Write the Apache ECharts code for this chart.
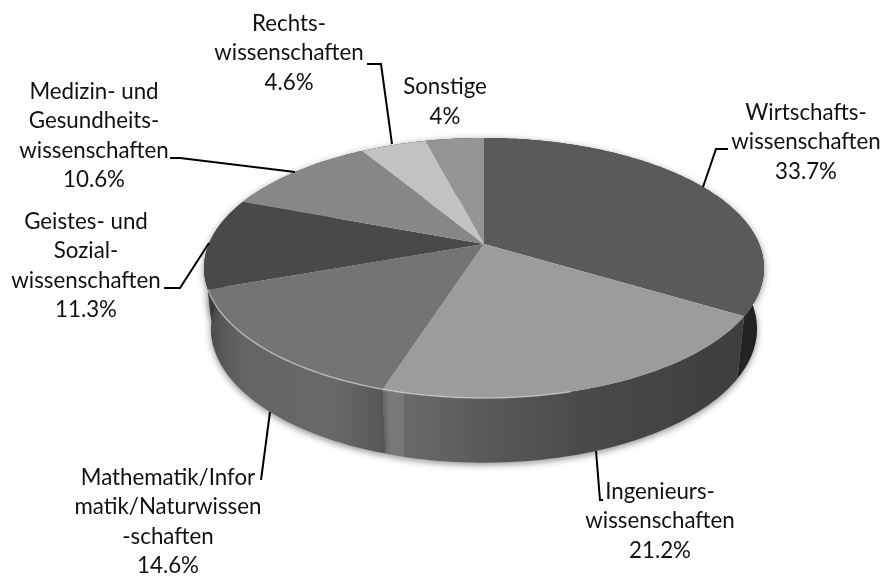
<!DOCTYPE html>
<html>
<head>
<meta charset="utf-8">
<title>Pie</title>
<style>
    html, body { margin: 0; padding: 0; background: #fff; }
    #chart { width: 883px; height: 577px; }
</style>
<script src="https://cdn.jsdelivr.net/npm/echarts@6/dist/echarts.min.js"></script>
</head>
<body>
<div id="chart"></div>
<script>
    // Werte im Uhrzeigersinn ab 12 Uhr
    var categories = [
        'Wirtschafts-\nwissenschaften',
        'Ingenieurs-\nwissenschaften',
        'Mathematik/Infor\nmatik/Naturwissen\n-schaften',
        'Geistes- und\nSozial-\nwissenschaften',
        'Medizin- und\nGesundheits-\nwissenschaften',
        'Rechts-\nwissenschaften',
        'Sonstige'
    ];
    var values = [33.7, 21.2, 14.6, 11.3, 10.6, 4.6, 4];
    var topColors = ['#5a5a5a', '#9c9c9c', '#747474', '#494949', '#878787', '#c2c2c2', '#959595'];

    // Beschriftung: Mittelpunkt des Textblocks und Fuehrungslinie
    var labelCenters = [[806, 142], [660, 521], [168, 522], [86, 266], [94, 136], [289, 53], [445, 102]];
    var leaderLines = [
        [[703, 187], [716, 149], [728, 149]],
        [[596, 451], [600, 500], [603, 500]],
        [[270, 412], [261, 480]],
        [[209, 243], [180, 288], [164, 288]],
        [[295, 172], [180, 158], [170, 158]],
        [[392, 144], [381, 64], [367, 64]],
        null
    ];

    // 3D-Projektion der Kreisscheibe
    var APEX_X = 484, APEX_Y = 244;
    var SCALE_X = 275.2, SCALE_Y = 125.6, PERSP = 0.1846;
    var DEPTH = 60, BOTTOM_SX = 0.975, BOTTOM_SY = 1.03;

    function rimTop(deg) {
        var a = deg * Math.PI / 180;
        var u = Math.sin(a), v = -Math.cos(a);
        var w = 1 - PERSP * v;
        return [APEX_X + SCALE_X * u / w, APEX_Y + SCALE_Y * v / w];
    }
    function rimBottom(deg) {
        var p = rimTop(deg);
        return [APEX_X + (p[0] - APEX_X) * BOTTOM_SX, APEX_Y + DEPTH + (p[1] - APEX_Y) * BOTTOM_SY];
    }
    function arc(fn, from, to) {
        var pts = [], n = Math.max(2, Math.ceil(Math.abs(to - from)));
        for (var i = 0; i <= n; i++) {
            pts.push(fn(from + (to - from) * i / n));
        }
        return pts;
    }
    function sliceAngles(index) {
        var sum = 0, total = 0;
        values.forEach(function (v, i) {
            if (i < index) sum += v;
            total += v;
        });
        return [sum / total * 360, (sum + values[index]) / total * 360];
    }
    function xGradient(x0, x1, stops) {
        return new echarts.graphic.LinearGradient(x0, 0, x1, 0, stops, true);
    }

    function sideFill(index) {
        if (index === 0) return xGradient(720, 764, [{offset: 0, color: '#383838'}, {offset: 0.55, color: '#262626'}, {offset: 1, color: '#1e1e1e'}]);
        if (index === 1) return xGradient(385, 744, [
            {offset: 0, color: '#7c7c7c'}, {offset: 0.05, color: '#767676'}, {offset: 0.055, color: '#6a6a6a'},
            {offset: 0.3, color: '#585858'}, {offset: 0.6, color: '#484848'}, {offset: 1, color: '#3e3e3e'}
        ]);
        if (index === 2) return xGradient(207, 385, [
            {offset: 0, color: '#4e4e4e'}, {offset: 0.2, color: '#646464'}, {offset: 0.7, color: '#696969'},
            {offset: 0.95, color: '#5a5a5a'}, {offset: 1, color: '#545454'}
        ]);
        return '#3a3a3a';
    }

    function renderSide(params) {
        var i = params.dataIndex, ang = sliceAngles(i);
        var pts = arc(rimTop, ang[0], ang[1]).concat(arc(rimBottom, ang[1], ang[0]));
        return {
            type: 'polygon',
            shape: { points: pts },
            style: {
                fill: sideFill(i),
                shadowBlur: 7,
                shadowColor: 'rgba(0,0,0,0.45)',
                shadowOffsetY: 2
            },
            silent: true
        };
    }

    function renderTop(params) {
        var i = params.dataIndex, ang = sliceAngles(i);
        var pts = [[APEX_X, APEX_Y]].concat(arc(rimTop, ang[0], ang[1]));
        return {
            type: 'polygon',
            shape: { points: pts },
            style: { fill: topColors[i] },
            silent: true
        };
    }

    // heller Lichtsaum an der Vorderkante
    function renderHighlight(params) {
        var ang = sliceAngles(params.dataIndex + 1);
        return {
            type: 'polyline',
            shape: { points: arc(rimTop, Math.max(ang[0], 165), ang[1]) },
            style: { fill: null, stroke: 'rgba(225,225,225,0.55)', lineWidth: 1.5 },
            silent: true
        };
    }

    function renderLabel(params) {
        var i = params.dataIndex, c = labelCenters[i], children = [];
        if (leaderLines[i]) {
            children.push({
                type: 'polyline',
                shape: { points: leaderLines[i] },
                style: { fill: null, stroke: '#000', lineWidth: 2 }
            });
        }
        children.push({
            type: 'text',
            style: {
                text: categories[i] + '\n' + values[i] + '%',
                x: c[0], y: c[1],
                align: 'center', verticalAlign: 'middle',
                font: '22.3px Lato', lineHeight: 29.5, fill: '#111'
            }
        });
        return { type: 'group', children: children, silent: true };
    }

    var chart = echarts.init(document.getElementById('chart'), null, { renderer: 'canvas' });
    chart.setOption({
        animation: false,
        backgroundColor: '#fff',
        series: [
            { type: 'custom', coordinateSystem: 'none', data: values, renderItem: renderSide, z: 1 },
            { type: 'custom', coordinateSystem: 'none', data: values, renderItem: renderTop, z: 2 },
            { type: 'custom', coordinateSystem: 'none', data: values.slice(1, 3), renderItem: renderHighlight, z: 3 },
            { type: 'custom', coordinateSystem: 'none', data: values, renderItem: renderLabel, z: 4 }
        ]
    });
</script>
</body>
</html>
